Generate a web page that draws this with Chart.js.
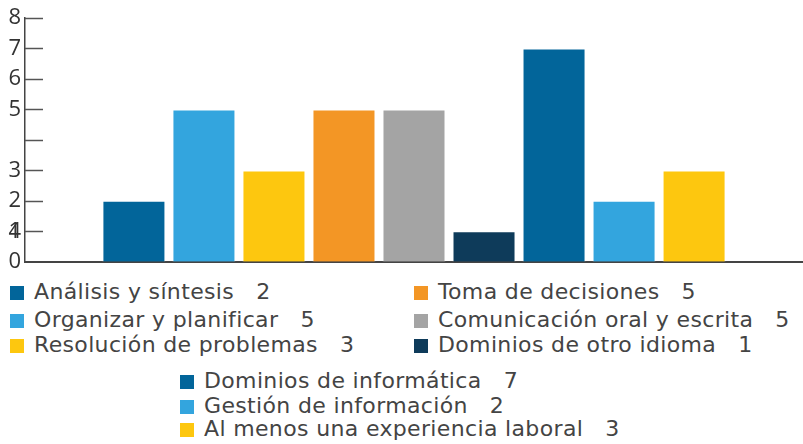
<!DOCTYPE html>
<html>
<head>
<meta charset="utf-8">
<script src="https://cdn.jsdelivr.net/npm/chart.js@4.4.1/dist/chart.umd.min.js"></script>
<style>
  html, body { margin: 0; padding: 0; background: #fff; }
  #wrap { position: relative; width: 803px; height: 444px; overflow: hidden; }
  #chart { position: absolute; left: 0; top: 0; }
  .item { position: absolute; display: flex; align-items: center; height: 24px;
          font-family: "DejaVu Sans", sans-serif; font-size: 22px; letter-spacing: 0.35px;
          color: #444; white-space: pre; }
  .sw { width: 14px; height: 14px; margin-right: 10px; margin-top: 4px; }
</style>
</head>
<body>
<div id="wrap">
  <canvas id="chart" width="803" height="279"></canvas>
</div>
<script>
const series = [
  "Análisis y síntesis",
  "Organizar y planificar",
  "Resolución de problemas",
  "Toma de decisiones",
  "Comunicación oral y escrita",
  "Dominios de otro idioma",
  "Dominios de informática",
  "Gestión de información",
  "Al menos una experiencia laboral"
];
const values = [2, 5, 3, 5, 5, 1, 7, 2, 3];
const colors = ["#02659a", "#33a5de", "#fdc70f", "#f39625", "#a4a4a4", "#0e3b5a", "#02659a", "#33a5de", "#fdc70f"];
const yTicks = [0, 1, 2, 3, 4, 5, 6, 7, 8];

// inner tick marks on the y axis (the original draws them inside the plot)
const innerTicks = {
  id: "innerTicks",
  afterDraw(chart) {
    const y = chart.scales.y;
    const ctx = chart.ctx;
    ctx.save();
    ctx.strokeStyle = "#555";
    ctx.lineWidth = 1.5;
    yTicks.forEach(v => {
      if (v === 0) return;
      const py = Math.round(y.getPixelForValue(v)) + 0.5;
      ctx.beginPath();
      ctx.moveTo(y.right, py);
      ctx.lineTo(y.right + 18, py);
      ctx.stroke();
    });
    // the stray "4" printed on top of the "1" in the original
    ctx.fillStyle = "#333";
    ctx.font = "22px 'Open Sans', sans-serif";
    ctx.textAlign = "right";
    ctx.textBaseline = "middle";
    ctx.fillText("4", y.right - 4, y.getPixelForValue(1));
    ctx.restore();
  }
};

new Chart(document.getElementById("chart"), {
  type: "bar",
  data: {
    labels: [""],
    datasets: series.map((name, i) => ({
      label: name,
      data: [values[i]],
      backgroundColor: colors[i],
      borderColor: "rgba(255,255,255,0.45)",
      borderWidth: 1,
      categoryPercentage: 0.81,
      barPercentage: 0.9
    }))
  },
  options: {
    responsive: false,
    animation: false,
    layout: { padding: { top: 18, right: 0, bottom: 0, left: 0 } },
    plugins: { legend: { display: false }, tooltip: { enabled: false } },
    scales: {
      x: {
        afterFit(scale) { scale.height = 2; },
        ticks: { display: false },
        grid: { display: false, drawTicks: false },
        border: { color: "#444", width: 2 }
      },
      y: {
        min: 0,
        max: 8,
        afterFit(scale) { scale.width = 25; },
        afterBuildTicks(scale) { scale.ticks = yTicks.map(v => ({ value: v })); },
        ticks: {
          padding: 4,
          color: "#333",
          font: { family: "'Open Sans', sans-serif", size: 22 },
          callback: v => (v === 4 ? "" : String(v))
        },
        grid: { display: false, drawTicks: false },
        border: { color: "#444", width: 1.5 }
      }
    }
  },
  plugins: [innerTicks]
});

// legend laid out like the original: two columns, then a third centred block
const wrap = document.getElementById("wrap");
const place = [
  [10, 279], [10, 307], [10, 332],
  [414, 279], [414, 307], [414, 332],
  [180, 368], [180, 393], [180, 416]
];
series.forEach((name, i) => {
  const d = document.createElement("div");
  d.className = "item";
  d.style.left = place[i][0] + "px";
  d.style.top = place[i][1] + "px";
  const sw = document.createElement("span");
  sw.className = "sw";
  sw.style.background = colors[i];
  d.appendChild(sw);
  d.appendChild(document.createTextNode(name + "   " + values[i]));
  wrap.appendChild(d);
});
</script>
</body>
</html>
